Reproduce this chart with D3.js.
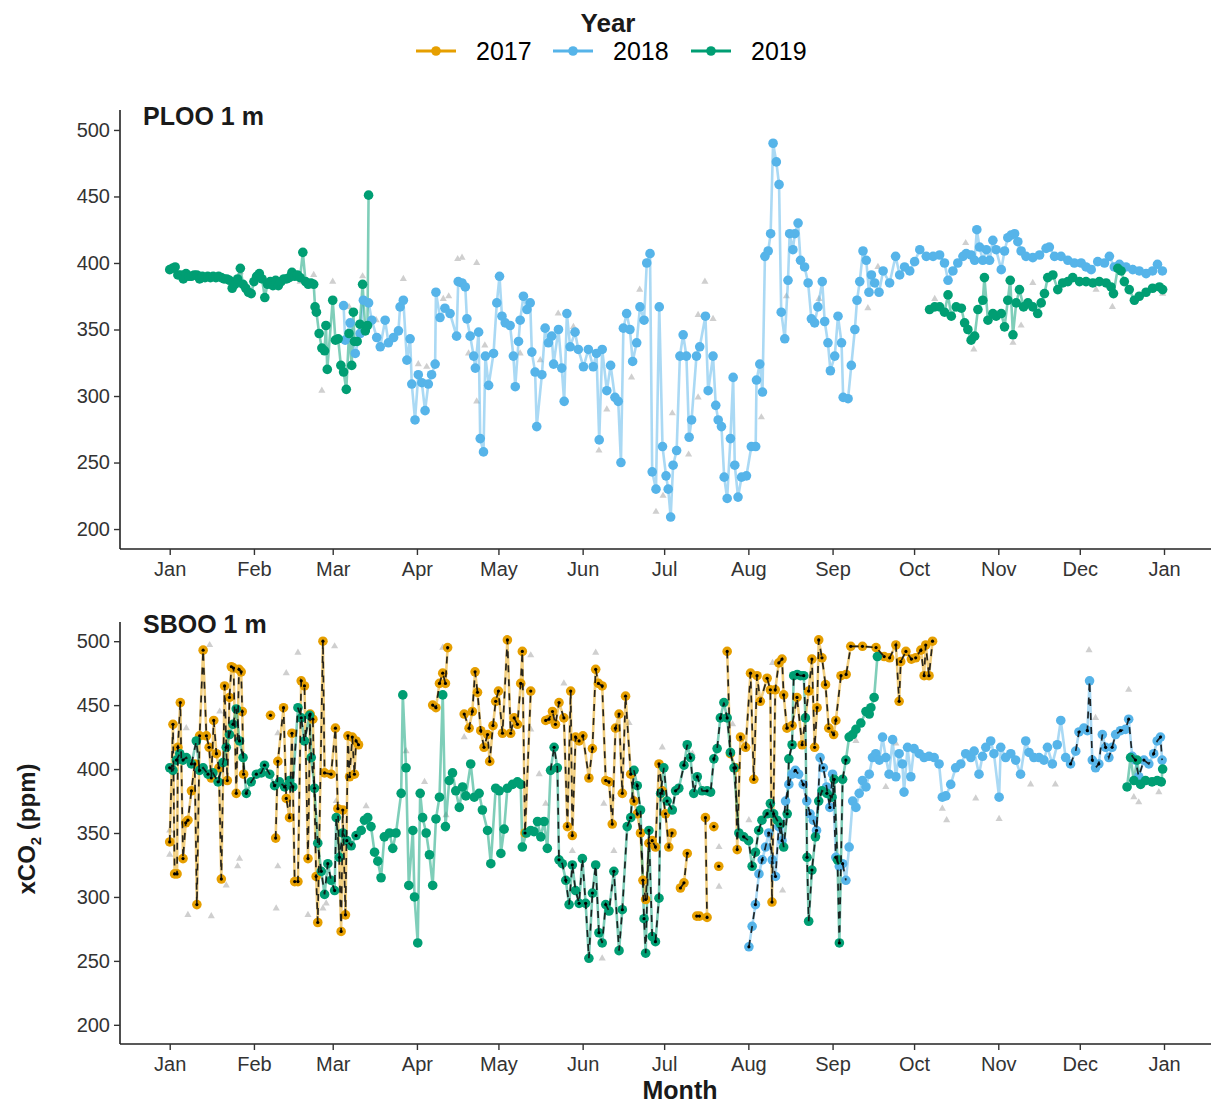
<!DOCTYPE html>
<html><head><meta charset="utf-8">
<script src="https://cdn.jsdelivr.net/npm/d3@7"></script>
<style>body{margin:0;background:#fff}svg{display:block}text{font-family:"Liberation Sans",Arial,sans-serif}</style>
</head><body><svg id="c" width="1211" height="1108"></svg>
<script>
// ---------------- data ----------------
const years = ["2017", "2018", "2019"];
const yearColors = ["#E69F00", "#56B4E9", "#009E73"];
const monthLabels = ["Jan","Feb","Mar","Apr","May","Jun","Jul","Aug","Sep","Oct","Nov","Dec","Jan"];
const yTicks = [200, 250, 300, 350, 400, 450, 500];
const panelTitles = ["PLOO 1 m", "SBOO 1 m"];
// day-of-year windows where the SBOO black dashed overlay is drawn, per year
const sbooDashWindows = [[[0, 366]], [[213, 250], [330, 366]], [[0, 70], [140, 250]]];

// [day of year, xCO2 ppm]; null = gap
const ploo2018 = [[64,368],[64.6,342],[66.4,355],[68.3,332],[70.1,347],[71.3,372],[73.2,370],[74.4,357],[76.2,344],[77.5,337],[79.3,357],[80.5,340],[82.4,344],[84.2,349],[84.8,367],[86,372],[87.3,327],[88.5,343],[89.1,309],[90.3,282],[91.5,316],[92.8,310],[94,289],[95.2,309],[96.4,316],[97.7,324],[98,378],[99.5,359],[101.3,366],[103.2,362],[105.6,345],[106.2,386],
[107.6,385],[108.8,382],[109.4,358],[110.6,345],[111.9,330],[112.5,321],[113.7,348],[114.3,268],[115.5,258],[116.2,330],[117.4,308],[119.2,332],[120.4,370],[121.4,390],[122.3,360],[123.5,355],[125.3,353],[126.5,330],[127.2,307],[128.4,341],[129,357],[130.2,375],[131.5,365],[132.7,370],[133.3,333],[134.5,318],[135.1,277],[137,316],[138.2,351],[139.4,340],[140.6,345],[141.3,324],[143.1,350],[144.3,321],[145.2,296],[146.2,362],[147.4,337],[149.2,348],[150.4,335],[152.3,322],[154.1,335],[155.9,322],[157.1,332],[158.1,267],[159.2,335],[160.9,304],[162.3,323],[163.9,299],[165.1,296],[166.1,250],[167,351],[168.2,362],[169.4,350],[170.4,326],[171.9,340],[173.1,367],[174.6,357],[175.6,400],[176.8,407],[177.6,243],[179,230],[180.2,367],[181.4,262],[182.7,240],[183.5,230],[184.4,209],[185.3,248],[186.6,259],[187.8,330],[189,346],[190.2,330],[191.2,269],[192.1,282],[193.9,330],[195.1,337],[197.2,360],[198.2,304],[200,330],[201,293],[201.9,282],[203.1,277],[204.1,239],[205.2,223],[206.4,268],[207.4,314],[208,248],[209.2,224],[210.5,239],[212.3,240],[214.1,262],[215.7,262],[216,312],[217.2,324],[218.2,303],[219.1,405],[220.3,409],[221.2,422],[222.1,490],[223.3,476],[224.3,459],[225.1,363],[226.4,343],[227.6,387],[228.2,422],[229.4,410],[230.1,422],[231.3,430],[232.2,402],[233.7,397],[235,385],[236.2,358],[237.4,355],[238.6,367],[240.2,386],[241.1,356],[242.3,340],[243.2,319],[244.8,330],[246,360],
[247.3,340],[247.9,299],[249.7,298],[250.9,323],[252.2,350],[253,372],[254,386],[255.2,409],[256.4,402],[257.4,378],[258.3,391],[259.5,385],[261.1,378],[262.6,394],[265,385],[267.2,405],[268.7,391],[270.5,397],[272.4,394],[274.2,401],[276.1,410],[278.5,405],[281,405],[283.4,406],[285.2,400],[286.5,387],[288.3,394],[290.1,400],[292,405],[293.2,407],[295,406],[296.3,402],[297.1,425],[298.1,412],[299.3,402],[300.6,410],[301.8,402],[303,417],[304.2,410],[306.1,395],[307.3,409],[308.5,419],[309.7,421],[311,422],[312.2,416],[313.4,409],[315.2,405],[317.7,404],[320.2,406],[322.6,411],[323.8,412],[325.7,405],[328.1,405],[330.6,402],[333,400],[335.5,400],[337.3,397],[339.2,395],[341.6,401],[344.1,400],[345.9,405],[347.7,397],[349.6,399],[352,397],[354.5,395],[356.9,394],[359.4,392],[361.8,394],[363.6,399],[365.4,394]];

const ploo2019 = [[0,395],[1,396],[2,397],[3,391],[4,391],[5,388],[6,392],[7,390],[8,390],[9,391],[10,391],[11,388],[12,390],[13,389],[14,390],[15,389],[16,390],[17,389],[18,390],[19,389],[20,388],[21,388],[22,387],[23,381],[24,384],[25,388],[26,396],[27,384],[28,381],[29,378],[30,377],[31,386],[32,390],[33,392],[34,388],[35,374],[36,384],[37,386],[38,383],[39,387],[40,383],[41,386],[42,388],[43,388],[44,389],[45,393],[46,390],[47,391],[48,389],[49,408],[50,386],[51,384],[52,385],[53,384],[53.5,367],[54,363],[55,347],[56,336],[57,334],[57.5,353],[58,320],[60,372],[61,342],[62,343],[63,323],[64,318],[65,305],[66,347],[67,323],[67.6,363],[68,341],[69,341],[70,354],[71,384],[72,349],[72.8,353],[73.2,451],[120,null],
[279.7,365],[281.6,367],[283.4,367],[285.2,363],[286.5,376],[287.7,360],[289.5,367],[291.4,366],[292.6,355],[293.8,350],[295,342],[296.3,345],[297.5,365],[299.3,372],[299.9,389],[301.2,357],[303,362],[304.2,360],[306.1,362],[307.3,352],[308.5,372],[309.4,387],[310.4,346],[311.6,370],[312.8,380],[314.3,367],[315.9,370],[317.7,367],[319.5,362],[320.8,370],[322,377],[323.2,389],[325.1,391],[326.9,380],[328.7,385],[330.6,386],[332.4,389],[334.9,386],[337.3,386],[339.8,385],[342.2,386],[344.7,385],[346.5,382],[347.4,377],[349,396],[350.2,394],[351.4,386],[353.2,380],[355.1,372],[356.9,375],[359.4,378],[361.8,381],[364.3,382],[365.5,380]];

const plooGrey = [[56,304],[60,386],[86,388],[100.7,373],[91.5,324],[94.6,322],[53,391],[26,393],[71,390],[106,403],[107.6,404],[113,400],[116,338],[113,296],[158,259],[160.9,290],[170,314],[173,380],[179,213],[181.6,225],[185,287],[191,256],[194.5,299],[197,386],[200,358],[194.5,361],[217.8,284],[224.5,460],[239,373],[227,375],[143,362],[148.6,352],[136.4,327],[129,332],[102.7,375],[110,332],[257,366],[293,415],[296,335],[310.4,340],[317.7,385],[341,380],[347,367],[281.6,373],[313.4,353],[365.5,377],[260.7,397],[354.5,396],[66,367],[48,386],[76,357]];

const sboo2017 = [[0,343],[1.2,435],[1.8,318],[2.7,318],[3,417],[3.9,452],[4.9,330],[5.9,358],[6.7,360],[8,383],[9.2,404],[10,294],[11,426],[12.3,493],[13.5,426],[14.5,417],[15.3,393],[16.2,438],[17.2,412],[18.1,401],[19,314],[20.2,465],[21.2,391],[22,456],[22.7,480],[23.5,479],[24.5,381],[25.5,478],[26.3,476],[26.7,445],[27.2,396],[30,null],[37.1,442],[38,null],[39,346],[39.8,406],[41.9,448],[42.9,377],[44.1,362],[45,428],[46,312],[47.2,312],[48.4,469],[49.6,465],[50.9,330],[51.7,443],[52.7,439],[53.9,316],[54.5,280],[56.4,500],[57,397],[59.4,396],[61,432],[61.9,369],[63.1,273],[63.7,368],[64.7,286],[65.6,426],[66.2,394],[67.2,425],[68,396],[68.6,422],[69.5,419],[80,null],[96.8,450],[98,448],[99.3,467],[100.5,475],[101.5,467],[102.3,495],[105,null],[108.4,443],[110.2,432],[111.4,445],[112.4,476],[113.3,460],[114.5,430],[115.7,417],[117,427],[117.8,406],[119,434],[120,453],[121,461],[122.5,428],[124.3,501],[125.5,428],[126.8,440],[128,435],[129.2,467],[129.8,492],[130.8,350],[132.9,461],[135,null],[138.4,438],[139.6,439],[140.9,445],[142,435],[143.3,452],[145.1,440],[146.4,355],[147.6,461],[148.2,348],[149.4,425],[150.7,422],[152.1,426],[154.3,393],[155.6,416],[156.8,478],[157.8,467],[159.2,465],[160.5,391],[161.7,390],[162.9,357],[164.1,432],[165.4,443],[166.6,381],[167.8,457],[169.7,396],[170.9,375],[172.1,365],[173.3,350],[174.2,313],[175.2,298],[176.4,342],[177.6,344],[178.8,339],[180.1,404],[181.3,383],[182.5,365],[183.7,339],[184.9,350],[186,null],[188,307],[189.3,311],[190.5,334],[192,null],[194,285],[195,285],[196,null],[197.2,362],[197.8,284],[199,null],[200.3,355],[201,null],[202.1,324],[203,null],[205.2,492],[206.4,412],[208.3,401],[208.9,337],[210.1,425],[212,417],[213.8,475],[215,392],[216.2,473],[217.4,453],[219.9,471],[221.1,462],[221.7,296],[222.9,462],[224.2,483],[225.4,486],[226,458],[227.2,432],[229.1,434],[230.9,456],[232.8,419],[235.2,461],[236.4,486],[237.4,417],[238.3,448],[238.9,501],[240.1,487],[241.4,466],[242.6,432],[244.4,427],[245.2,438],[247.1,473],[249,474],[250.7,496],[255,496],[260,495],[263,488],[265,487],[267.3,497],[268.5,453],[269.1,484],[271,492],[273,486],[274.6,487],[276.5,493],[277.7,473],[278.3,497],[279.5,473],[280.8,500]];

const sboo2018 = [[213.2,261],[214.4,277],[215.6,294],[216.9,318],[218.1,329],[219.3,339],[220.5,350],[221.8,329],[223,316],[224.2,355],[225.4,344],[226.7,375],[227.9,388],[229.1,396],[230.3,399],[231.5,396],[233.2,388],[234.5,375],[235.7,365],[236.9,360],[238.1,352],[239.4,409],[240.6,401],[241.8,386],[243,370],[244,396],[245.2,331],[246.5,324],[247.7,326],[248.9,313],[250.1,339],[251.4,375],[252.6,370],[253.8,381],[255,391],[256.3,386],[257.5,396],[258.7,409],[259.9,412],[261.2,407],[262.4,425],[263.6,409],[264.8,396],[266.1,423],[267.3,394],[268.5,412],[269.7,404],[270.3,382],[271.6,417],[272.8,394],[274,416],[275.9,412],[277.7,409],[279.5,410],[281.4,409],[283.2,404],[284.4,378],[285.7,379],[287.5,388],[289.3,401],[291.2,404],[293,412],[294.9,409],[296.1,414],[297.9,396],[299.2,410],[300.4,417],[302.2,422],[303.4,412],[305.3,378],[305.9,417],[307.7,409],[309.6,412],[311.4,407],[313.2,396],[315.1,422],[316.3,413],[318.1,409],[320,409],[321.8,407],[323.1,417],[324.9,404],[326.7,419],[328,438],[329.8,409],[331.6,404],[333.5,414],[334.7,429],[336.5,432],[337.8,430],[338.6,469],[339.6,407],[340.8,401],[342,404],[343.3,427],[344.5,417],[345.7,409],[346.9,417],[348.2,427],[350,430],[351.8,431],[353,439],[354.3,410],[355.5,407],[356.7,394],[358.6,407],[360.4,404],[362.2,412],[363.5,422],[364.7,425],[365.3,407]];

const sboo2019 = [[0,401],[1.2,399],[2.5,407],[3.7,412],[4.9,407],[6.1,409],[8,404],[9.8,422],[11,399],[12.3,401],[14.1,396],[15.9,397],[17.8,390],[19.6,405],[20.8,417],[22,427],[23.3,435],[24.5,447],[25.7,422],[27,409],[28.2,381],[30,390],[31.9,396],[33.7,397],[34.9,403],[36.8,396],[38.6,387],[40.4,390],[42.3,386],[44.1,391],[45.3,386],[47.2,448],[48.4,440],[49.6,422],[51.5,442],[52.1,409],[53.3,385],[54.5,342],[55.8,320],[57,302],[58.2,326],[59.4,313],[60.7,305],[61.3,362],[62.5,331],[63.7,350],[65.2,344],[66.8,340],[68.6,348],[70.5,352],[71.7,360],[72.9,362],[74.1,355],[75.4,335],[76.6,328],[77.8,315],[79,347],[80.9,350],[82.1,338],[83.3,350],[85.2,381],[85.8,458],[87,401],[88,309],[89.5,352],[90.1,300],[91.3,264],[92.2,381],[93.1,362],[94.4,350],[95.6,333],[96.8,309],[98,361],[99.3,378],[100.5,458],[101.5,355],[102.9,391],[104.1,397],[105.3,383],[106.6,370],[107.8,386],[109,379],[110.8,404],[112.1,378],[113.9,381],[115.1,368],[117,352],[118.2,326],[120,385],[121.3,383],[121.9,334],[123.1,353],[124.3,385],[126.2,388],[128,390],[129.2,388],[129.8,339],[131.3,350],[132.9,352],[134.1,351],[135.4,359],[136.6,347],[137.8,359],[139,338],[140.2,399],[141.5,417],[142.7,401],[143.3,329],[144.5,326],[145.8,313],[147,294],[148.2,325],[149.4,305],[150.7,295],[151.9,330],[153.1,295],[154.3,252],[155.6,303],[156.8,325],[158,272],[159.2,264],[160.5,294],[161.7,289],[163.5,320],[165.4,258],[166.6,290],[168.4,355],[169.7,362],[170.9,399],[172.1,387],[173.3,368],[174.6,283],[175.2,256],[176.4,352],[177.6,269],[178.8,265],[180.1,299],[180.7,381],[181.9,401],[183.1,375],[185,368],[186.2,383],[187.4,385],[189.3,403],[190.5,419],[191.7,409],[192.9,381],[194.2,394],[196,383],[197.8,383],[199.1,382],[200.3,408],[201.5,416],[202.7,440],[204,452],[205.2,440],[206.4,413],[207.7,401],[209.5,350],[211.3,347],[213.1,344],[214.4,324],[215.6,335],[216.8,352],[218,360],[219.9,365],[221.1,373],[222.3,365],[223.6,360],[224.8,357],[226,339],[227.3,365],[227.9,408],[229.1,419],[229.7,473],[231,474],[232.2,473],[233.4,473],[234,440],[234.6,331],[235.2,281],[236.4,321],[237.7,347],[238.9,375],[240.1,383],[241.9,381],[243.8,378],[244.6,392],[245.8,329],[246.5,264],[247.7,392],[248.9,407],[250.1,425],[251.4,427],[252.6,431],[254.4,436],[256.3,445],[257.5,443],[258.1,448],[259.3,456],[260.5,488],[300,null],[352.4,386],[353.7,409],[354.9,391],[356.1,407],[357.4,388],[359.2,391],[361.6,390],[363.5,391],[365,390],[365.5,400]];

const sbooGrey = [[14.7,497],[6.7,286],[15.3,285],[6.1,432],[0,333],[0,352],[18.4,445],[20.8,309],[25,324],[25.7,330],[39.2,291],[39.8,324],[39.8,428],[42.9,475],[47.2,491],[50.9,286],[56.4,291],[60.7,496],[72.3,371],[87,414],[93.8,390],[101.7,364],[100.5,495],[57.6,295],[61.3,375],[108.4,425],[132.9,489],[132.9,431],[136,396],[138.4,373],[145.1,467],[148.2,336],[156.8,491],[159.2,252],[159.8,373],[162.9,378],[163.5,336],[169.1,436],[181.3,417],[192.4,412],[202.2,339],[202.2,308],[207.2,435],[213.2,360],[221.9,483],[225.6,305],[231.7,396],[235.4,461],[338.4,493],[353,462],[356.7,374],[354.9,378],[305.3,361],[296.7,377],[284.4,369],[263.6,386],[364.1,382],[316.9,388],[340.8,440],[252.6,422],[267.3,420],[286,360],[326,388]];

// ---------------- drawing ----------------
const svg = d3.select("#c");
const base = Date.UTC(2020, 0, 1);
const toDate = d => new Date(base + d * 864e5);
const pad = 18.3;
const x = d3.scaleUtc().domain([toDate(-pad), toDate(365 + pad)]).range([120, 1211]);
const monthTicks = d3.utcMonth.range(toDate(0), toDate(367));

const panels = [
  {top:110, bottom:549, title:panelTitles[0], titleY:125,
   series:[null, ploo2018, ploo2019], grey:plooGrey, black:false},
  {top:622, bottom:1044, title:panelTitles[1], titleY:633,
   series:[sboo2017, sboo2018, sboo2019], grey:sbooGrey, black:true}
];

const inWin = (d, wins) => wins.some(w => d[0] >= w[0] && d[0] <= w[1]);

panels.forEach(p => {
  const y = d3.scaleLinear().domain([185, 515]).range([p.bottom, p.top]);
  const g = svg.append("g");

  const ya = g.append("g").attr("transform", "translate(120,0)")
    .call(d3.axisLeft(y).tickValues(yTicks).tickSize(6).tickPadding(4).tickSizeOuter(0));
  const xa = g.append("g").attr("transform", `translate(0,${p.bottom})`)
    .call(d3.axisBottom(x).tickValues(monthTicks).tickFormat((d,i) => monthLabels[i]).tickSize(6).tickPadding(7).tickSizeOuter(0));
  [ya, xa].forEach(a => {
    a.select(".domain").attr("stroke", "#222").attr("stroke-width", 1.6);
    a.selectAll(".tick line").attr("stroke", "#333").attr("stroke-width", 1.4);
    a.selectAll(".tick text").attr("fill", "#333").attr("font-size", 20);
  });
  ya.select(".domain").attr("d", `M0,${p.top}V${p.bottom}`);
  xa.select(".domain").attr("d", `M120,0H1211`);

  g.append("g").selectAll("path").data(p.grey).join("path")
    .attr("d", d3.symbol(d3.symbolTriangle).size(22))
    .attr("transform", d => `translate(${x(toDate(d[0]))},${y(d[1])})`)
    .attr("fill", "#cfcfcf");

  const line = d3.line().defined(d => d[1] !== null)
    .x(d => x(toDate(d[0]))).y(d => y(d[1]));

  p.series.forEach((s, i) => {
    if (!s) return;
    g.append("path").datum(s).attr("d", line)
      .attr("fill", "none").attr("stroke", yearColors[i])
      .attr("stroke-width", 2.6).attr("stroke-opacity", 0.5);
  });
  p.series.forEach((s, i) => {
    if (!s) return;
    g.append("g").selectAll("circle").data(s.filter(d => d[1] !== null)).join("circle")
      .attr("cx", d => x(toDate(d[0]))).attr("cy", d => y(d[1])).attr("r", 4.8)
      .attr("fill", yearColors[i]);
  });
  if (p.black) {
    p.series.forEach((s, i) => {
      const wins = sbooDashWindows[i];
      const masked = s.map(d => (d[1] !== null && inWin(d, wins)) ? d : [d[0], null]);
      g.append("path").datum(masked).attr("d", line)
        .attr("fill", "none").attr("stroke", "#111").attr("stroke-width", 1.7)
        .attr("stroke-dasharray", "7,7").attr("stroke-opacity", 0.9);
      g.append("g").selectAll("circle")
        .data(masked.filter(d => d[1] !== null).filter((d, k) => i === 0 || k % 2 === 0)).join("circle")
        .attr("cx", d => x(toDate(d[0]))).attr("cy", d => y(d[1])).attr("r", 1.6)
        .attr("fill", "#000");
    });
  }

  g.append("text").attr("x", 143).attr("y", p.titleY).text(p.title)
    .attr("font-size", 25).attr("font-weight", "bold").attr("fill", "#1a1a1a");
});

svg.append("text").attr("x", 680).attr("y", 1099).attr("text-anchor", "middle")
  .attr("font-size", 25).attr("font-weight", "bold").attr("fill", "#1a1a1a").text("Month");
const yt = svg.append("text").attr("transform", "translate(35,829) rotate(-90)")
  .attr("text-anchor", "middle").attr("font-size", 24).attr("font-weight", "bold").attr("fill", "#1a1a1a");
yt.append("tspan").text("xCO");
yt.append("tspan").attr("font-size", 15).attr("dy", 6).text("2");
yt.append("tspan").attr("dy", -6).text(" (ppm)");

svg.append("text").attr("x", 608).attr("y", 32).attr("text-anchor", "middle")
  .attr("font-size", 26).attr("font-weight", "bold").attr("fill", "#1a1a1a").text("Year");
const keyX = [416, 553, 691];
const lg = svg.append("g").selectAll("g").data(years).join("g")
  .attr("transform", (d, i) => `translate(${keyX[i]},51)`);
lg.append("line").attr("x1", 0).attr("x2", 40).attr("stroke", (d, i) => yearColors[i]).attr("stroke-width", 3);
lg.append("circle").attr("cx", 20).attr("r", 4.8).attr("fill", (d, i) => yearColors[i]);
lg.append("text").attr("x", 60).attr("dy", "0.35em").attr("font-size", 25).attr("fill", "#000").text(d => d);
</script></body></html>
